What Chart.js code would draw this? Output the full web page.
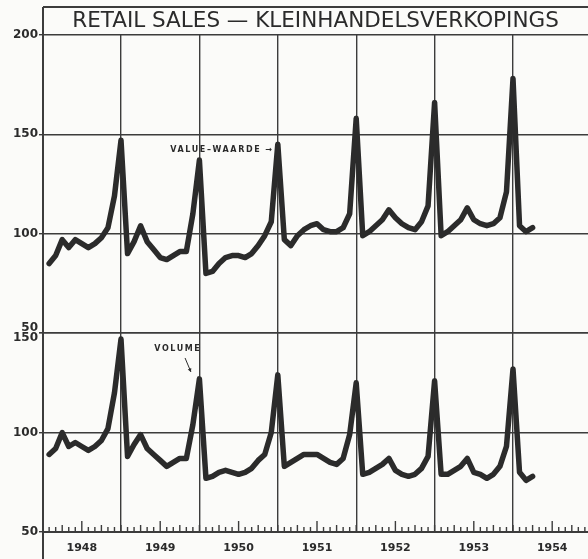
<!DOCTYPE html>
<html>
<head>
<meta charset="utf-8">
<script src="https://cdn.jsdelivr.net/npm/chart.js@4"></script>
<style>
  html, body { margin: 0; padding: 0; background: #fbfbf9; }
  #c { display: block; }
</style>
</head>
<body>
<canvas id="c" width="588" height="559"></canvas>
<script>
// Monthly index, January 1948 = 0 ... March 1954 = 74
const years = ['1948', '1949', '1950', '1951', '1952', '1953', '1954'];
const valueSeries = [
  85, 89, 97, 93, 97, 95, 93, 95, 98, 103, 119, 147,   // 1948
  90, 96, 104, 96, 92, 88, 87, 89, 91, 91, 110, 137,   // 1949
  80, 81, 85, 88, 89, 89, 88, 90, 94, 99, 106, 145,    // 1950
  97, 94, 99, 102, 104, 105, 102, 101, 101, 103, 110, 158, // 1951
  99, 101, 104, 107, 112, 108, 105, 103, 102, 106, 114, 166, // 1952
  99, 101, 104, 107, 113, 107, 105, 104, 105, 108, 121, 178, // 1953
  104, 101, 103                                         // 1954
];
const volumeSeries = [
  89, 92, 100, 93, 95, 93, 91, 93, 96, 102, 120, 147,  // 1948
  88, 94, 99, 92, 89, 86, 83, 85, 87, 87, 104, 127,    // 1949
  77, 78, 80, 81, 80, 79, 80, 82, 86, 89, 100, 129,    // 1950
  83, 85, 87, 89, 89, 89, 87, 85, 84, 87, 99, 125,     // 1951
  79, 80, 82, 84, 87, 81, 79, 78, 79, 82, 88, 126,     // 1952
  79, 79, 81, 83, 87, 80, 79, 77, 79, 83, 93, 132,     // 1953
  80, 76, 78                                           // 1954
];
const topTicks = [50, 100, 150, 200];
const bottomTicks = [50, 100, 150];
const decemberIdx = [11, 23, 35, 47, 59, 71];
const yearLabelIdx = [5, 17, 29, 41, 53, 65, 77];

const INK = '#2b2b2b';
const GRID = '#3c3c3c';

const toPoints = arr => arr.map((v, i) => ({ x: i, y: v }));

const framePlugin = {
  id: 'frame',
  afterDraw(chart) {
    const { ctx, chartArea: a, width, height } = chart;
    ctx.save();
    ctx.strokeStyle = GRID;
    ctx.lineWidth = 2;
    ctx.beginPath();
    ctx.moveTo(a.left, 7); ctx.lineTo(width, 7);
    ctx.moveTo(a.left, 7); ctx.lineTo(a.left, height);
    ctx.stroke();
    // minor month ticks along the bottom base line
    const xs = chart.scales.x;
    ctx.lineWidth = 1.4;
    ctx.beginPath();
    for (let m = 0; m <= 82; m++) {
      const px = xs.getPixelForValue(m);
      if (px < a.left + 2 || px > a.right) continue;
      let h = 5;
      if (m % 12 === 5) h = 11; else if (m % 3 === 2) h = 7;
      ctx.moveTo(px, a.bottom); ctx.lineTo(px, a.bottom - h);
    }
    ctx.stroke();
    ctx.restore();
  },
  afterDatasetsDraw(chart) {
    const { ctx, scales: { x, yTop, yBot } } = chart;
    ctx.save();
    ctx.fillStyle = INK;
    ctx.strokeStyle = INK;
    ctx.font = 'bold 8px "DejaVu Sans"';
    try { ctx.letterSpacing = '1.6px'; } catch (e) {}
    ctx.textBaseline = 'middle';
    ctx.textAlign = 'right';
    ctx.fillText('VALUE\u2013WAARDE \u2192', x.getPixelForValue(34.4), yTop.getPixelForValue(142));
    ctx.textAlign = 'center';
    ctx.fillText('VOLUME', x.getPixelForValue(19.7), yBot.getPixelForValue(142));
    // small arrow for VOLUME
    const x1 = x.getPixelForValue(20.8), y1 = yBot.getPixelForValue(137.5);
    const x2 = x.getPixelForValue(21.7), y2 = yBot.getPixelForValue(130.5);
    ctx.lineWidth = 1;
    ctx.beginPath(); ctx.moveTo(x1, y1); ctx.lineTo(x2, y2); ctx.stroke();
    const ang = Math.atan2(y2 - y1, x2 - x1);
    ctx.beginPath();
    ctx.moveTo(x2, y2);
    ctx.lineTo(x2 - 4 * Math.cos(ang - 0.5), y2 - 4 * Math.sin(ang - 0.5));
    ctx.lineTo(x2 - 4 * Math.cos(ang + 0.5), y2 - 4 * Math.sin(ang + 0.5));
    ctx.closePath(); ctx.fill();
    ctx.restore();
  }
};

const yCommon = {
  type: 'linear',
  position: 'left',
  stack: 'panels',
  border: { color: GRID, width: 2 },
  grid: { color: GRID, lineWidth: 1.4, tickLength: 4, tickColor: GRID },
  afterFit: s => { s.width = 43; }
};

new Chart(document.getElementById('c'), {
  type: 'line',
  data: {
    datasets: [
      { label: 'Value', data: toPoints(valueSeries), yAxisID: 'yTop' },
      { label: 'Volume', data: toPoints(volumeSeries), yAxisID: 'yBot' }
    ]
  },
  options: {
    responsive: false,
    animation: false,
    devicePixelRatio: 1,
    layout: { padding: { left: 0, right: 0, top: 0, bottom: 0 } },
    elements: {
      point: { radius: 0 },
      line: { borderColor: INK, borderWidth: 5.5, tension: 0, borderJoinStyle: 'round', borderCapStyle: 'round', fill: false }
    },
    plugins: {
      legend: { display: false },
      tooltip: { enabled: false },
      title: {
        display: true,
        fullSize: false,
        text: 'RETAIL SALES \u2014 KLEINHANDELSVERKOPINGS',
        color: INK,
        font: { family: '"DejaVu Sans"', size: 21.5, weight: 'normal', lineHeight: 1.2 },
        padding: { top: 9, bottom: 0 }
      }
    },
    scales: {
      x: {
        type: 'linear',
        min: -0.94,
        max: 82.48,
        afterBuildTicks: s => {
          s.ticks = decemberIdx.map(v => ({ value: v })).concat(yearLabelIdx.map(v => ({ value: v })));
        },
        afterFit: s => { s.height = 27; },
        border: { color: GRID, width: 2 },
        grid: {
          drawTicks: false,
          lineWidth: 1.4,
          color: ctx => (ctx.tick && decemberIdx.includes(ctx.tick.value)) ? GRID : 'rgba(0,0,0,0)'
        },
        ticks: {
          autoSkip: false,
          maxRotation: 0,
          padding: 10,
          color: INK,
          font: { family: '"DejaVu Sans"', size: 11, weight: 'bold' },
          callback: v => {
            const k = yearLabelIdx.indexOf(v);
            return k >= 0 ? years[k] : '';
          }
        }
      },
      yBot: Object.assign({}, yCommon, {
        stackWeight: 1,
        min: 50, max: 150,
        afterBuildTicks: s => { s.ticks = bottomTicks.map(v => ({ value: v })); },
        ticks: {
          padding: 1, color: INK,
          font: { family: '"DejaVu Sans"', size: 12, weight: 'bold', lineHeight: 0.85 },
          callback: v => v === 150 ? ['', '150'] : String(v)
        }
      }),
      yTop: Object.assign({}, yCommon, {
        stackWeight: 1.5,
        min: 50, max: 200,
        afterBuildTicks: s => { s.ticks = topTicks.map(v => ({ value: v })); },
        ticks: {
          padding: 1, color: INK,
          font: { family: '"DejaVu Sans"', size: 12, weight: 'bold', lineHeight: 0.85 },
          callback: v => v === 50 ? ['50', ''] : String(v)
        }
      })
    }
  },
  plugins: [framePlugin]
});
</script>
</body>
</html>
